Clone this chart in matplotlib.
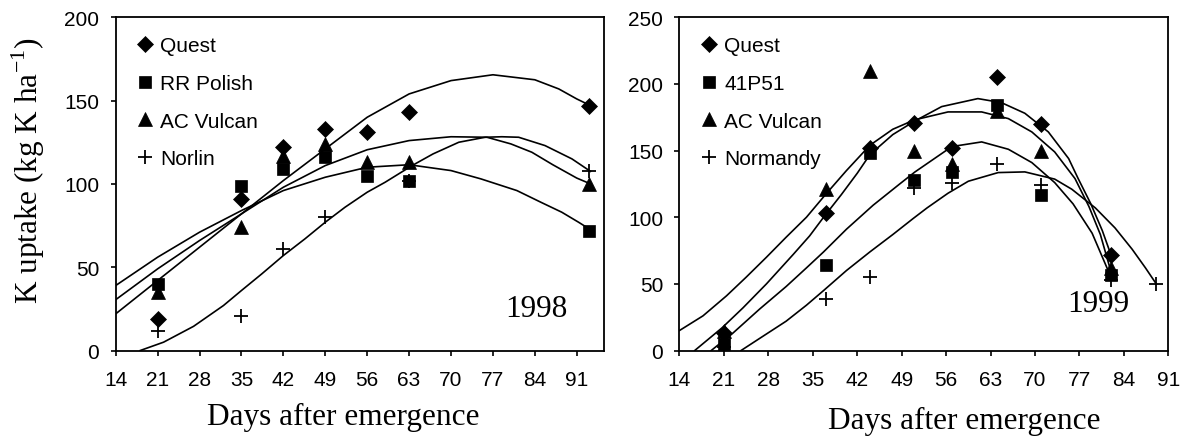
import matplotlib
matplotlib.use("Agg")
import matplotlib.pyplot as plt

plt.rcParams['font.family'] = 'Liberation Sans'
plt.rcParams['mathtext.fontset'] = 'custom'
plt.rcParams['mathtext.rm'] = 'Liberation Serif'

# ---- 1998 measured points ----
days_98 = [21, 35, 42, 49, 56, 63, 93]
quest_98 = [19, 91, 122, 133, 131, 143, 147]
polish_98 = [40, 99, 109, 116, 105, 102, 72]
vulcan_98 = [35, 74, 117, 124, 113, 113, 100]
norlin_days = [21, 35, 42, 49, 63, 93]
norlin_98 = [12, 21, 61, 80, 102, 108]

# ---- 1998 trend curves ----
quest_98_cx = [14, 21, 28, 35, 42, 49, 56, 63, 70, 77, 84, 88, 91, 93]
quest_98_cy = [22, 42, 62, 82, 102, 121, 140, 154, 162, 165.5, 162.5, 157, 151, 147.5]
polish_98_cx = [14, 21, 28, 35, 42, 49, 56, 63, 70, 75, 81, 85, 88.5, 91.3, 93.3]
polish_98_cy = [39, 56, 71, 84, 96, 104, 110, 111.5, 108, 103, 96, 89, 83, 77, 72.5]
vulcan_98_cx = [14, 21, 28, 35, 42, 49, 56, 63, 70, 76, 80, 83.5, 87, 91, 93.3]
vulcan_98_cy = [30.5, 49, 66, 82, 98, 111, 120.5, 126, 128.3, 128, 124, 119, 111.5, 103.5, 100]
norlin_98_cx = [18.1, 22, 27, 32, 35, 38.4, 42, 45.6, 49, 52.3, 56, 59, 63.5, 67, 71.3,
                75.7, 78.5, 81.3, 85.7, 90.2, 93.3]
norlin_98_cy = [0, 5, 14.5, 27, 36, 46, 57, 67, 77, 86, 95, 101, 111, 118, 125,
                128, 128.3, 128, 123, 115, 107.5]

# ---- 1999 measured points ----
days_99 = [21, 37, 44, 51, 57, 64, 71, 82]
quest_99 = [13, 103, 152, 171, 152, 205, 170, 72]
p51_99 = [5, 64, 148, 128, 134, 184, 117, 57]
vulcan_99 = [15, 121, 210, 150, 140, 180, 150, 62]
normandy_days = [21, 37, 44, 51, 57, 64, 71, 82, 89]
normandy_99 = [3, 39, 55, 122, 126, 140, 124, 53, 50]

# ---- 1999 trend curves ----
quest_99_cx = [16.4, 20.7, 24, 27.7, 31.9, 34.5, 36.7, 39.5, 42, 44, 47.6, 51, 55.3, 61,
               64.7, 68.4, 72.1, 75.3, 76.8, 78.8, 80.6, 82.1]
quest_99_cy = [0, 17, 32, 50, 72, 86, 100, 117, 133, 147, 162, 172, 183, 189,
               186, 178, 164, 144, 129, 110, 90, 70]
p51_99_cx = [19, 22.4, 26.6, 30.8, 34, 36.7, 40.3, 44.5, 48.7, 51.1, 56.9, 61.6, 65.8,
             69.5, 73.1, 76, 79, 81.7]
p51_99_cy = [0, 13, 31, 48, 62, 74, 91, 109, 125, 134, 153, 156.5, 151,
             141, 126, 110, 88, 58]
vulcan_99_cx = [14, 17.7, 21.4, 24.5, 27.7, 30.8, 34, 37, 40.3, 44, 47.6, 51, 56.3, 61.6,
                65.8, 69.5, 73.1, 76.3, 78.5, 80.3, 81.8]
vulcan_99_cy = [15, 26, 41, 55, 70, 85, 100, 117, 135, 154, 166, 173, 179, 179,
                174, 164, 149, 129, 108, 87, 62]
normandy_99_cx = [23.7, 26.6, 30.8, 34, 36.7, 40.3, 44, 47.6, 50.8, 53, 56.3, 59.5, 64.2,
                  68.4, 73.1, 75.8, 79.5, 82.6, 85.3, 87.4, 89.1]
normandy_99_cy = [0, 9, 22, 34, 45, 60, 74, 87, 99, 107, 118, 127, 133.5,
                  134, 128.6, 121, 107, 92, 76, 62, 50]

xticks = list(range(14, 92, 7))
serif = 'Liberation Serif'

fig = plt.figure(figsize=(11.85, 4.39), dpi=100)
W, H = 1185.0, 439.0
ax1 = fig.add_axes([115.7 / W, 1 - 351.5 / H, (604.3 - 115.7) / W, (351.5 - 18.3) / H])
ax2 = fig.add_axes([679.5 / W, 1 - 351.5 / H, (1168.3 - 679.5) / W, (351.5 - 18.3) / H])


def style(ax, xmax, ymax):
    ax.set_xlim(14, xmax)
    ax.set_ylim(0, ymax)
    ax.set_xticks(xticks)
    ax.set_yticks(range(0, ymax + 1, 50))
    for s in ax.spines.values():
        s.set_linewidth(1.3)
    ax.tick_params(direction='out', length=3.8, width=1.2, labelsize=15)
    ax.tick_params(axis='x', pad=10.5)
    ax.tick_params(axis='y', pad=8)


mk = dict(color='black', linestyle='none')


def draw(ax, days, series, curves, labels, pdays):
    q, s, t, p = series
    ax.plot(days, q, marker='D', markersize=8, markeredgewidth=0.5, label=labels[0], **mk)
    ax.plot(days, s, marker='s', markersize=8.5, markeredgewidth=0.5, label=labels[1], **mk)
    ax.plot(days, t, marker='^', markersize=10, markeredgewidth=0.5, label=labels[2], **mk)
    ax.plot(pdays, p, marker='+', markersize=10, markeredgewidth=1.3, label=labels[3], **mk)
    for cx, cy in curves:
        ax.plot(cx, cy, color='black', linewidth=1.2)
    ax.legend(loc='upper left', frameon=False, fontsize=15, handlelength=1.0,
              handletextpad=0.25, labelspacing=0.9, borderaxespad=0.5)


draw(ax1, days_98, [quest_98, polish_98, vulcan_98, norlin_98],
     [(quest_98_cx, quest_98_cy), (polish_98_cx, polish_98_cy),
      (vulcan_98_cx, vulcan_98_cy), (norlin_98_cx, norlin_98_cy)],
     ['Quest', 'RR Polish', 'AC Vulcan', 'Norlin'], norlin_days)
draw(ax2, days_99, [quest_99, p51_99, vulcan_99, normandy_99],
     [(quest_99_cx, quest_99_cy), (p51_99_cx, p51_99_cy),
      (vulcan_99_cx, vulcan_99_cy), (normandy_99_cx, normandy_99_cy)],
     ['Quest', '41P51', 'AC Vulcan', 'Normandy'], normandy_days)

style(ax1, 95.6, 200)
style(ax2, 91, 250)

ax1.text(84.3, 25, '1998', ha='center', va='center', family=serif, fontsize=22.5)
ax2.text(79.9, 35, '1999', ha='center', va='center', family=serif, fontsize=22.5)

fig.text(343 / W, 1 - 417 / H, 'Days after emergence', ha='center', va='center',
         family=serif, fontsize=22.5)
fig.text(964 / W, 1 - 421 / H, 'Days after emergence', ha='center', va='center',
         family=serif, fontsize=22.5)
fig.text(28 / W, 1 - 171 / H, 'K uptake (kg K ha$^{-1}$)', ha='center', va='center',
         rotation=90, family=serif, fontsize=22.5)

fig.savefig('out.png', dpi=100)
